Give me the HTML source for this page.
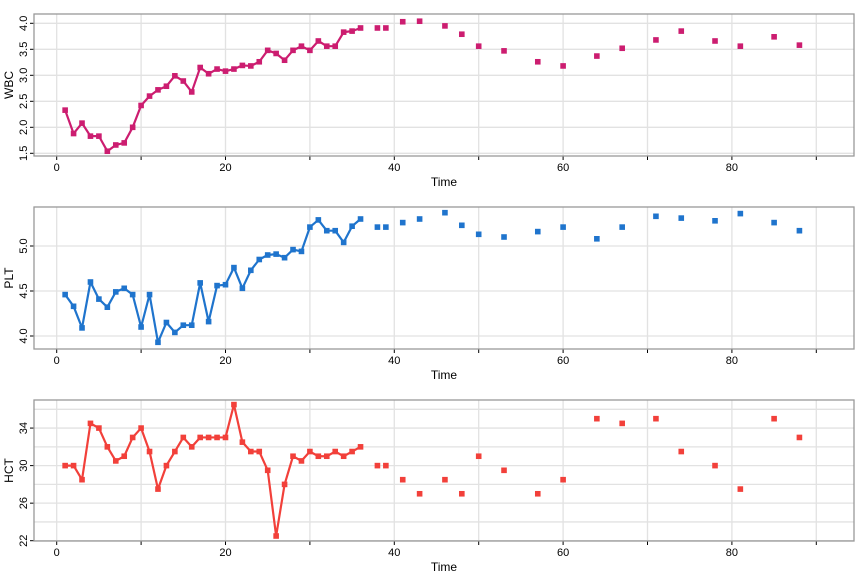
<!DOCTYPE html>
<html><head><meta charset="utf-8"><style>
body{margin:0;background:#fff;}
svg{display:block;font-family:"Liberation Sans",sans-serif;}
</style></head><body>
<svg id="c" width="864" height="576"></svg>
<script>
const times=[1,2,3,4,5,6,7,8,9,10,11,12,13,14,15,16,17,18,19,20,21,22,23,24,25,26,27,28,29,30,31,32,33,34,35,36,38,39,41,43,46,48,50,53,57,60,64,67,71,74,78,81,85,88];
const connectedCount=36;
const wbcValues=[2.33,1.88,2.08,1.83,1.83,1.54,1.66,1.70,2.0,2.42,2.60,2.72,2.79,2.99,2.89,2.68,3.15,3.03,3.12,3.08,3.12,3.19,3.18,3.26,3.48,3.42,3.29,3.48,3.56,3.48,3.66,3.56,3.56,3.83,3.85,3.91,3.91,3.91,4.03,4.04,3.95,3.79,3.56,3.47,3.26,3.18,3.37,3.52,3.68,3.85,3.66,3.56,3.74,3.58];
const pltValues=[4.46,4.33,4.09,4.60,4.41,4.32,4.49,4.53,4.46,4.10,4.46,3.93,4.15,4.04,4.12,4.12,4.59,4.16,4.56,4.57,4.76,4.53,4.73,4.85,4.90,4.91,4.87,4.96,4.94,5.21,5.29,5.17,5.17,5.04,5.22,5.30,5.21,5.21,5.26,5.30,5.37,5.23,5.13,5.10,5.16,5.21,5.08,5.21,5.33,5.31,5.28,5.36,5.26,5.17];
const hctValues=[30,30,28.5,34.5,34,32,30.5,31,33,34,31.5,27.5,30,31.5,33,32,33,33,33,33,36.5,32.5,31.5,31.5,29.5,22.5,28,31,30.5,31.5,31,31,31.5,31,31.5,32,30,30,28.5,27,28.5,27,31,29.5,27,28.5,35,34.5,35,31.5,30,27.5,35,33];
const xTicks=[0,10,20,30,40,50,60,70,80,90];
const xLabels=[0,20,40,60,80];
const wbcTicks=[1.5,2.0,2.5,3.0,3.5,4.0];
const pltTicks=[4.0,4.5,5.0];
const hctTicks=[22,26,30,34];
const hctGrid=[22,24,26,28,30,32,34,36];

const NS="http://www.w3.org/2000/svg";
const svg=document.getElementById('c');
function el(t,a,p){const e=document.createElementNS(NS,t);for(const k in a)e.setAttribute(k,a[k]);(p||svg).appendChild(e);return e;}
const X0=34,X1=854;
function xs(t){return 56.7+8.44*t;}

function panel(name,top,bottom,v0,y0,v1,y1,ticks,grid,vals,color,fmt){
  const g=el('g',{});
  
  
  const ys=v=>y0+(v-v0)*(y1-y0)/(v1-v0);
  grid.forEach(v=>{const l=el('line',{x1:X0,x2:X1,y1:ys(v),y2:ys(v),stroke:'#e2e2e2','stroke-width':1.3},g);});
  xTicks.forEach(t=>{const l=el('line',{x1:xs(t),x2:xs(t),y1:top,y2:bottom,stroke:'#e2e2e2','stroke-width':1.3},g);
    const tk=el('line',{x1:xs(t),x2:xs(t),y1:bottom,y2:bottom+4,stroke:'#000','stroke-width':1},g);});
  xLabels.forEach(t=>{const tx=el('text',{x:xs(t),y:bottom+15,'font-size':11,'text-anchor':'middle',fill:'#000'},g);tx.textContent=t;});
  ticks.forEach(v=>{const tk=el('line',{x1:X0-4,x2:X0,y1:ys(v),y2:ys(v),stroke:'#000'},g);
    const tx=el('text',{x:0,y:0,'font-size':11,'text-anchor':'middle',fill:'#000',transform:`translate(${X0-7},${ys(v)}) rotate(-90)`},g);tx.textContent=fmt(v);});
  const box=el('rect',{x:X0,y:top,width:X1-X0,height:bottom-top,fill:'none',stroke:'#999','stroke-width':1.3},g);
  
  let d='';
  for(let i=0;i<connectedCount;i++)d+=(i?'L':'M')+xs(times[i])+','+ys(vals[i]);
  const p=el('path',{d:d,fill:'none',stroke:color,'stroke-width':2.2,'stroke-linejoin':'round'},g);
  
  vals.forEach((v,i)=>{const r=el('rect',{x:xs(times[i])-2.8,y:ys(v)-2.8,width:5.6,height:5.6,fill:color},g);
    });
  const tl=el('text',{x:444,y:bottom+30,'font-size':12,'text-anchor':'middle',fill:'#000'},g);tl.textContent='Time';
  
  const yl=el('text',{x:0,y:0,'font-size':12,'text-anchor':'middle',fill:'#000',transform:`translate(13,${(top+bottom)/2}) rotate(-90)`},g);yl.textContent=name.toUpperCase();
  
}
panel('wbc',14,156,1.5,153.3,4.0,23.3,wbcTicks,wbcTicks,wbcValues,'#cc1d70',v=>v.toFixed(1));
panel('plt',207,349,4.0,336,5.0,246,pltTicks,pltTicks,pltValues,'#1f74cd',v=>v.toFixed(1));
panel('hct',400,541,22,540.7,36,409.3,hctTicks,hctGrid,hctValues,'#f2403a',v=>String(v));
</script>
</body></html>
